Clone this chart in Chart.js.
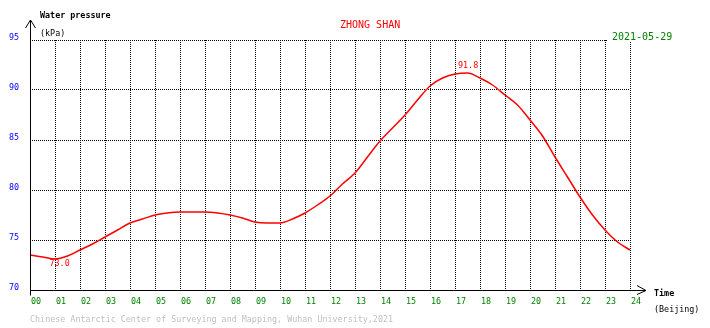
<!DOCTYPE html>
<html>
<head>
<meta charset="utf-8">
<title>ZHONG SHAN water pressure</title>
<script src="https://cdn.jsdelivr.net/npm/chart.js@4/dist/chart.umd.min.js"></script>
<style>
  html, body { margin: 0; padding: 0; background: #fff; }
</style>
</head>
<body>
<canvas id="pressureChart" width="710" height="328"></canvas>
<script>
// hours of the day (beijing time), one reading every half hour
const hours = [0, 0.5, 1, 1.5, 2, 2.5, 3, 3.5, 4, 4.5, 5, 5.5, 6, 6.5, 7, 7.5, 8, 8.5,
  9, 9.5, 10, 10.5, 11, 11.5, 12, 12.5, 13, 13.5, 14, 14.5, 15, 15.5, 16, 16.5,
  17, 17.5, 18, 18.5, 19, 19.5, 20, 20.5, 21, 21.5, 22, 22.5, 23, 23.5, 24];

// water pressure (kPa)
const pressure = [73.5, 73.3, 73.1, 73.4, 74.0, 74.6, 75.3, 76.0, 76.7, 77.1, 77.5, 77.7,
  77.8, 77.8, 77.8, 77.7, 77.5, 77.2, 76.8, 76.7, 76.7, 77.1, 77.7, 78.5, 79.4, 80.6,
  81.7, 83.3, 84.9, 86.2, 87.5, 89.0, 90.4, 91.2, 91.6, 91.7, 91.2, 90.5, 89.5, 88.5,
  87.0, 85.4, 83.3, 81.3, 79.3, 77.5, 76.0, 74.8, 74.0];

// tick labels
const hourLabels = ['00', '01', '02', '03', '04', '05', '06', '07', '08', '09', '10', '11',
  '12', '13', '14', '15', '16', '17', '18', '19', '20', '21', '22', '23', '24'];
const pressureTicks = [70, 75, 80, 85, 90, 95];

// min / max marks
const extremeHours = [0.9, 17.2];
const extremeValues = [73.0, 91.8];

const monoFont = "'DejaVu Sans Mono', monospace";

//draw axes with arrows and all the captions
const decorPlugin = {
  id: 'decor',
  beforeDraw(chart) {
    const ctx = chart.ctx;
    ctx.save();
    ctx.fillStyle = '#fff';
    ctx.fillRect(0, 0, chart.width, chart.height);
    ctx.restore();
  },
  afterDraw(chart) {
    const ctx = chart.ctx;
    const xs = chart.scales.x;
    const ys = chart.scales.y;
    const x0 = Math.round(xs.getPixelForValue(0)) + 0.5;
    const yb = Math.round(ys.getPixelForValue(70)) + 0.5;

    ctx.save();
    ctx.strokeStyle = '#000';
    ctx.lineWidth = 1;
    ctx.beginPath();
    // y axis + arrow
    ctx.moveTo(x0, yb + 5);
    ctx.lineTo(x0, 20);
    ctx.moveTo(x0 - 5, 28);
    ctx.lineTo(x0, 20);
    ctx.lineTo(x0 + 5, 28);
    // x axis + arrow
    ctx.moveTo(x0, yb);
    ctx.lineTo(646, yb);
    ctx.moveTo(637, yb - 5);
    ctx.lineTo(646, yb);
    ctx.lineTo(637, yb + 4);
    ctx.stroke();

    ctx.textBaseline = 'middle';
    ctx.textAlign = 'left';

    // axis names
    ctx.fillStyle = '#000';
    ctx.font = 'bold 8.4px ' + monoFont;
    ctx.fillText('Water pressure', 40, 16);
    ctx.fillText('Time', 654, 294);
    ctx.font = '8.4px ' + monoFont;
    ctx.fillText('(kPa)', 40, 34);
    ctx.fillText('(Beijing)', 654, 310);

    // station name
    ctx.fillStyle = '#ff0000';
    ctx.font = '10px ' + monoFont;
    ctx.fillText('ZHONG SHAN', 340, 25);

    // date, covering the grid behind it
    ctx.fillStyle = '#fff';
    ctx.fillRect(607, 30, 68, 11);
    ctx.fillStyle = '#008000';
    ctx.font = '10px ' + monoFont;
    ctx.fillText('2021-05-29', 612, 37);

    // extreme values
    ctx.fillStyle = '#ff0000';
    ctx.font = '8.4px ' + monoFont;
    const pMin = [xs.getPixelForValue(extremeHours[0]), ys.getPixelForValue(extremeValues[0])];
    const pMax = [xs.getPixelForValue(extremeHours[1]), ys.getPixelForValue(extremeValues[1])];
    ctx.fillText(extremeValues[0].toFixed(1), pMin[0] - 3, pMin[1] + 4);
    ctx.fillText(extremeValues[1].toFixed(1), pMax[0] - 2, pMax[1] - 6);

    // footer
    ctx.fillStyle = '#c0c0c0';
    ctx.fillText('Chinese Antarctic Center of Surveying and Mapping, Wuhan University,2021', 30, 320);
    ctx.restore();
  }
};

const ctx = document.getElementById('pressureChart');

new Chart(ctx, {
  type: 'line',
  data: {
    datasets: [{
      label: 'Water pressure',
      data: hours.map((h, i) => ({ x: h, y: pressure[i] })),
      borderColor: '#ff0000',
      borderWidth: 1.5,
      pointRadius: 0,
      cubicInterpolationMode: 'monotone',
      fill: false
    }]
  },
  options: {
    responsive: false,
    animation: false,
    devicePixelRatio: 1,
    layout: { padding: { left: 0, right: 80, top: 40, bottom: 18 } },
    plugins: {
      legend: { display: false },
      tooltip: { enabled: false }
    },
    scales: {
      x: {
        type: 'linear',
        min: 0,
        max: 24,
        afterFit: s => { s.height = 20; },
        afterBuildTicks: s => { s.ticks = hourLabels.map((l, i) => ({ value: i })); },
        ticks: {
          autoSkip: false,
          maxRotation: 0,
          align: 'start',
          labelOffset: 1,
          padding: 7,
          color: '#008000',
          font: { family: monoFont, size: 8.4 },
          callback: v => hourLabels[v]
        },
        grid: { color: '#000', lineWidth: 1, drawTicks: false },
        border: { display: false, dash: [1, 1] }
      },
      y: {
        min: 70,
        max: 95,
        afterFit: s => { s.width = 30; },
        afterBuildTicks: s => { s.ticks = pressureTicks.map(v => ({ value: v })); },
        ticks: {
          padding: 11,
          labelOffset: -2,
          color: '#0000ff',
          font: { family: monoFont, size: 8.4 },
          callback: v => String(v)
        },
        grid: { color: '#000', lineWidth: 1, drawTicks: false },
        border: { display: false, dash: [1, 1] }
      }
    }
  },
  plugins: [decorPlugin]
});
</script>
</body>
</html>
